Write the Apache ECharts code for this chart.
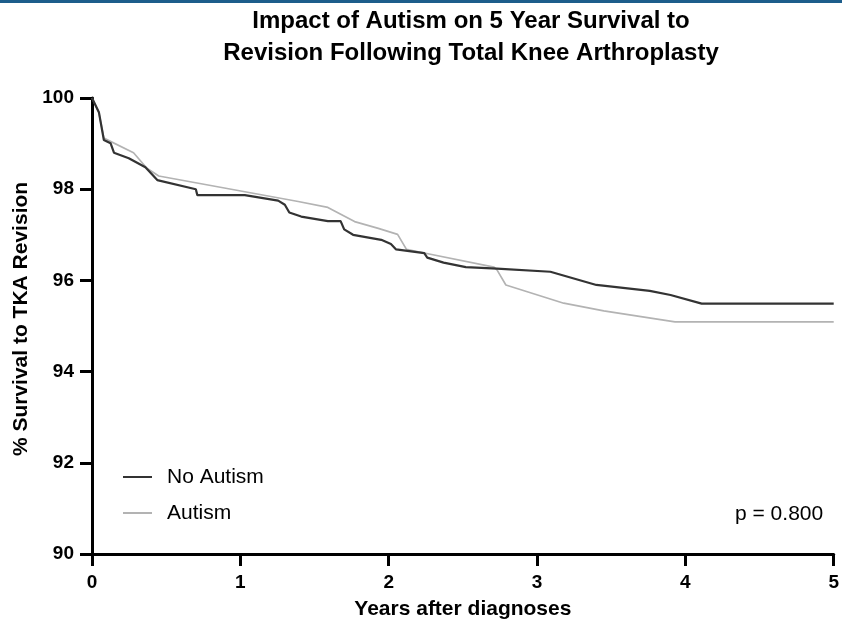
<!DOCTYPE html>
<html>
<head>
<meta charset="utf-8">
<script src="https://cdn.jsdelivr.net/npm/echarts@6/dist/echarts.min.js"></script>
<style>
html,body{margin:0;padding:0;background:#fff;}
#chart{width:842px;height:628px;}
</style>
</head>
<body>
<div id="chart"></div>
<script>
var titleText = 'Impact of Autism on 5 Year Survival to\nRevision Following Total Knee Arthroplasty';
var xAxisName = 'Years after diagnoses';
var yAxisName = '% Survival to TKA Revision';
var seriesNames = ['No Autism', 'Autism'];
var pValueText = 'p = 0.800';

var noAutism = [
  [0,100],[0.047,99.68],[0.08,99.08],[0.125,99.01],[0.148,98.80],[0.248,98.68],
  [0.36,98.48],[0.44,98.2],[0.70,98.0],[0.71,97.87],[1.03,97.87],[1.255,97.75],
  [1.30,97.66],[1.33,97.49],[1.41,97.40],[1.59,97.30],[1.676,97.30],[1.70,97.12],
  [1.76,97.0],[1.95,96.89],[2.015,96.80],[2.05,96.68],[2.24,96.6],[2.26,96.50],
  [2.37,96.39],[2.52,96.29],[2.73,96.26],[3.09,96.19],[3.40,95.90],[3.76,95.77],
  [3.90,95.68],[4.11,95.49],[5.0,95.49]
];
var autism = [
  [0,100],[0.045,99.7],[0.08,99.12],[0.28,98.80],[0.37,98.46],[0.45,98.29],
  [1.39,97.73],[1.59,97.6],[1.77,97.29],[1.93,97.14],[2.06,97.01],[2.12,96.68],
  [2.24,96.6],[2.71,96.29],[2.73,96.23],[2.79,95.9],[3.18,95.5],[3.45,95.33],
  [3.93,95.09],[5.0,95.09]
];

var FONT = "'Liberation Sans', Arial, Helvetica, sans-serif";
var chart = echarts.init(document.getElementById('chart'), null, {renderer:'canvas'});
chart.setOption({
  backgroundColor: '#fff',
  animation: false,
  title: {
    text: titleText,
    left: 466, textAlign: 'center', top: 0,
    textStyle: {fontFamily: FONT, fontSize: 24, fontWeight: 'bold', color: '#000', lineHeight: 32}
  },
  graphic: [
    {type:'rect', left:0, top:0, shape:{width:842, height:3}, style:{fill:'#1d5d8b'}},
    {type:'text', left:735, top:504, style:{text:pValueText, font:"21px " + FONT, fill:'#000'}}
  ],
  legend: {
    data: [
      {name: seriesNames[0], icon: 'rect', itemStyle: {color: '#333333'}},
      {name: seriesNames[1], icon: 'rect', itemStyle: {color: '#b3b3b3'}}
    ],
    orient: 'vertical',
    left: 118, top: 461,
    itemWidth: 29, itemHeight: 2, itemGap: 14,
    textStyle: {fontFamily: FONT, fontSize: 21, color: '#000', lineHeight: 22, padding: [0,0,0,10]}
  },
  grid: {left: 92, right: 5, top: 98, bottom: 74, containLabel: false},
  xAxis: {
    type: 'value', min: 0, max: 5, interval: 1,
    name: xAxisName, nameLocation: 'middle', nameGap: 45,
    nameTextStyle: {fontFamily: FONT, fontSize: 21, fontWeight: 'bold', color: '#000'},
    axisLine: {show: true, lineStyle: {color: '#000', width: 3}},
    axisTick: {show: true, length: 12, lineStyle: {color: '#000', width: 3}},
    axisLabel: {margin: 19, fontFamily: FONT, fontSize: 19, fontWeight: 'bold', color: '#000'},
    splitLine: {show: false}
  },
  yAxis: {
    type: 'value', min: 90, max: 100, interval: 2,
    name: yAxisName, nameLocation: 'middle', nameGap: 59,
    nameTextStyle: {fontFamily: FONT, fontSize: 21, fontWeight: 'bold', color: '#000', padding: [0,0,0,14]},
    axisLine: {show: true, lineStyle: {color: '#000', width: 3}},
    axisTick: {show: true, length: 12, lineStyle: {color: '#000', width: 3}},
    axisLabel: {margin: 18, fontFamily: FONT, fontSize: 19, fontWeight: 'bold', color: '#000'},
    splitLine: {show: false}
  },
  series: [
    {name: seriesNames[1], type: 'line', data: autism, symbol: 'none', z: 2,
     lineStyle: {color: '#b3b3b3', width: 1.7}, itemStyle: {color: '#b3b3b3'}},
    {name: seriesNames[0], type: 'line', data: noAutism, symbol: 'none', z: 3,
     lineStyle: {color: '#333333', width: 2.2}, itemStyle: {color: '#333333'}}
  ]
});
</script>
</body>
</html>
